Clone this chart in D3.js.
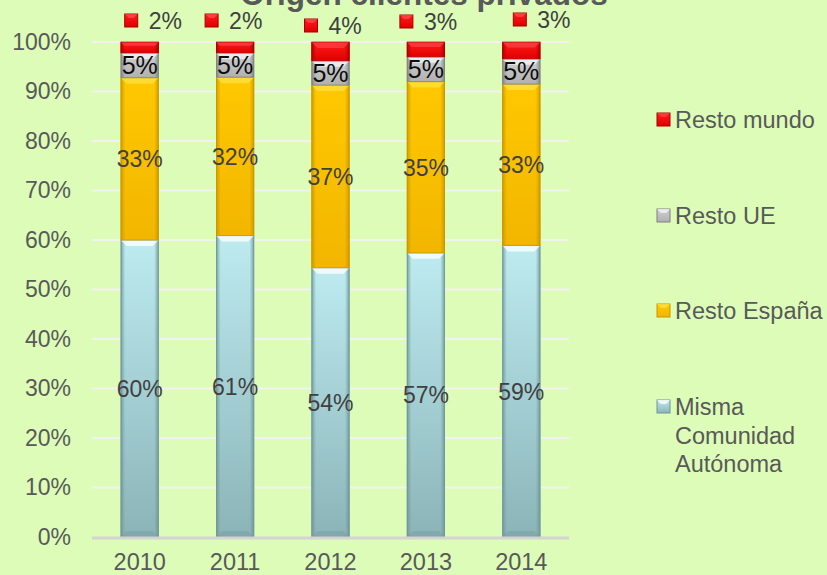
<!DOCTYPE html>
<html><head><meta charset="utf-8">
<script src="https://cdn.jsdelivr.net/npm/d3@7"></script>
<style>
html,body{margin:0;padding:0;background:#DCFCB8;}
text{font-family:"Liberation Sans",Arial,sans-serif;}
</style></head>
<body>
<svg id="chart" width="827" height="575"></svg>
<script>
// ---- data ----
const years = ["2010","2011","2012","2013","2014"];
const seriesNames = ["Misma Comunidad Autónoma","Resto España","Resto UE","Resto mundo"];
const mismaCA    = [0.600,0.609,0.544,0.574,0.589];
const restoEsp   = [0.328,0.320,0.369,0.346,0.326];
const restoUE    = [0.050,0.049,0.049,0.050,0.051];
const restoMundo = [0.022,0.022,0.038,0.030,0.034];
const yTicks = [0,0.1,0.2,0.3,0.4,0.5,0.6,0.7,0.8,0.9,1.0];
// manual nudges of the "Resto mundo" labels (layout only)
const redLabelDx = [-15,-30,-26,-26,-8];
const redLabelDy = [21,21,26,22,20];

const svg = d3.select("#chart");
svg.append("rect").attr("width",827).attr("height",575).attr("fill","#DCFCB8");

const x = d3.scaleBand().domain(years).range([92,569]).paddingInner(0.6).paddingOuter(0.3);
const y = d3.scaleLinear().domain([0,1]).range([537,42]);

const rows = years.map((yr,i)=>({year:yr, m:mismaCA[i], e:restoEsp[i], u:restoUE[i], w:restoMundo[i]}));
const stack = d3.stack().keys(["m","e","u","w"])(rows);

const styles = {
  m:{light:"#BDEBF0", mid:"#A6D2D8", dark:"#8BB4B8", edge:"#6F9598", top:"#FFFFFF"},
  e:{light:"#FFC800", mid:"#FFC000", dark:"#F2B600", edge:"#C99600", top:"#FFE040"},
  u:{light:"#D0D0D0", mid:"#BFBFBF", dark:"#B0B0B0", edge:"#808080", top:"#F4F4F4"},
  w:{light:"#FF1A1A", mid:"#F00000", dark:"#E00000", edge:"#A80000", top:"#FF4040"}
};

const defs = svg.append("defs");
Object.entries(styles).forEach(([k,s])=>{
  const gv = defs.append("linearGradient").attr("id","gv_"+k).attr("x1",0).attr("x2",0).attr("y1",0).attr("y2",1);
  gv.append("stop").attr("offset","0%").attr("stop-color",s.light);
  gv.append("stop").attr("offset","100%").attr("stop-color",s.dark);
  const gh = defs.append("linearGradient").attr("id","gh_"+k).attr("x1",0).attr("x2",1).attr("y1",0).attr("y2",0);
  gh.append("stop").attr("offset","0%").attr("stop-color",s.edge).attr("stop-opacity",0.9);
  gh.append("stop").attr("offset","12%").attr("stop-color",s.edge).attr("stop-opacity",0.0);
  gh.append("stop").attr("offset","88%").attr("stop-color",s.edge).attr("stop-opacity",0.0);
  gh.append("stop").attr("offset","100%").attr("stop-color",s.edge).attr("stop-opacity",0.9);
});

// gridlines
svg.append("g").selectAll("line").data(yTicks.filter(t=>t>0)).join("line")
  .attr("x1",92).attr("x2",569).attr("y1",d=>y(d)).attr("y2",d=>y(d))
  .attr("stroke","#F2F2F2").attr("stroke-width",2);

// y axis labels via d3 axis
const yAxis = svg.append("g").attr("transform","translate(77,0)")
  .call(d3.axisLeft(y).tickValues(yTicks).tickFormat(d3.format(".0%")).tickSize(0).tickPadding(6));
yAxis.select(".domain").remove();
yAxis.selectAll("text").attr("font-size",23).attr("fill","#595959").attr("font-family","Liberation Sans, Arial, sans-serif");

// bars
const bw = x.bandwidth();
stack.forEach(layer=>{
  const k = layer.key, s = styles[k];
  const g = svg.append("g");
  layer.forEach((d,i)=>{
    const x0 = x(d.data.year), yt = y(d[1]), yb = y(d[0]), h = yb-yt;
    g.append("rect").attr("x",x0).attr("y",yt).attr("width",bw).attr("height",h).attr("fill","url(#gv_"+k+")");
    g.append("rect").attr("x",x0).attr("y",yt).attr("width",bw).attr("height",h).attr("fill","url(#gh_"+k+")");
    const bev = Math.min(6, h/3);
    g.append("path").attr("d",`M${x0},${yt}L${x0+bw},${yt}L${x0+bw-bev},${yt+bev}L${x0+bev},${yt+bev}Z`)
      .attr("fill",s.top).attr("opacity",0.75);
    if (k==="m") {
      g.append("path").attr("d",`M${x0},${yb}L${x0+bw},${yb}L${x0+bw-6},${yb-6}L${x0+6},${yb-6}Z`)
        .attr("fill",s.edge).attr("opacity",0.35);
    }
    g.append("rect").attr("x",x0+0.5).attr("y",yt).attr("width",bw-1).attr("height",h)
      .attr("fill","none").attr("stroke",s.edge).attr("stroke-width",1).attr("opacity",0.7);
  });
});

// baseline
svg.append("line").attr("x1",92).attr("x2",569).attr("y1",y(0)+1).attr("y2",y(0)+1)
  .attr("stroke","#D4D4D4").attr("stroke-width",3);

// x axis labels via d3 axis
const xAxis = svg.append("g").attr("transform","translate(0,570)")
  .call(d3.axisBottom(x).tickSize(0).tickPadding(0));
xAxis.select(".domain").remove();
xAxis.selectAll("text").attr("dy",0).attr("y",0).attr("font-size",23.5).attr("fill","#595959").attr("font-family","Liberation Sans, Arial, sans-serif");

// data labels inside bars
const pct = v => Math.round(v*100)+"%";
stack.forEach(layer=>{
  if (layer.key==="w") return;
  svg.append("g").selectAll("text").data(layer).join("text")
    .attr("x",d=>x(d.data.year)+bw/2)
    .attr("y",d=>(y(d[0])+y(d[1]))/2)
    .attr("dy","0.36em")
    .attr("text-anchor","middle")
    .attr("font-size",layer.key==="u"?25:23)
    .attr("fill",layer.key==="u"?"#0D0D0D":"#404040")
    .text(d=>pct(d.data[layer.key]));
});

// Resto mundo labels with legend key
const wLayer = stack[3];
const rl = svg.append("g");
wLayer.forEach((d,i)=>{
  const cx = x(d.data.year)+bw/2 + redLabelDx[i];
  const cy = redLabelDy[i];
  rl.append("rect").attr("x",cx).attr("y",cy-7).attr("width",13).attr("height",13).attr("fill","url(#gv_w)")
    .attr("stroke","#A80000").attr("stroke-width",1);
  rl.append("path").attr("d",`M${cx},${cy-7}L${cx+13},${cy-7}L${cx+9},${cy-3}L${cx+4},${cy-3}Z`).attr("fill","#FF5050").attr("opacity",0.7);
  rl.append("text").attr("x",cx+24).attr("y",cy).attr("dy","0.36em").attr("font-size",23).attr("fill","#404040")
    .text(pct(d.data.w));
});

// title (partially clipped at top, as in the reference)
svg.append("text").attr("x",424).attr("y",5).attr("text-anchor","middle")
  .attr("font-size",31.5).attr("font-weight","bold").attr("fill","#595959").text("Origen clientes privados");

// legend
const legendItems = [
  {k:"w", lines:["Resto mundo"], y:120},
  {k:"u", lines:["Resto UE"], y:216},
  {k:"e", lines:["Resto España"], y:311},
  {k:"m", lines:["Misma","Comunidad","Autónoma"], y:407}
];
const lg = svg.append("g");
legendItems.forEach(it=>{
  const s = styles[it.k];
  lg.append("rect").attr("x",657).attr("y",it.y-7).attr("width",13).attr("height",13)
    .attr("fill","url(#gv_"+it.k+")").attr("stroke",s.edge).attr("stroke-width",1);
  lg.append("path").attr("d",`M657,${it.y-7}L670,${it.y-7}L666,${it.y-3}L661,${it.y-3}Z`).attr("fill",s.top).attr("opacity",0.8);
  const t = lg.append("text").attr("x",675).attr("y",it.y).attr("font-size",23.5).attr("fill","#595959");
  it.lines.forEach((ln,j)=>{
    t.append("tspan").attr("x",675).attr("dy",j===0?"0.36em":"1.2em").text(ln);
  });
});
</script>
</body></html>
